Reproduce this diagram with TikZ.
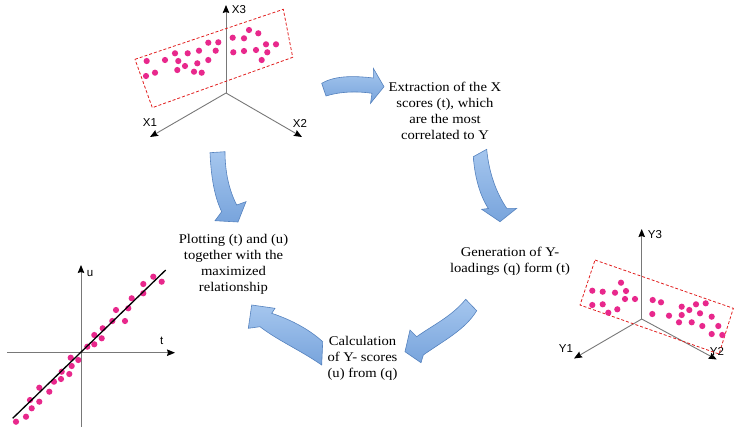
\documentclass[tikz,border=0pt]{standalone}
\usepackage{fontspec}
\setmainfont[FakeStretch=1.1]{Liberation Serif}
\newfontfamily\axfont{Liberation Sans}
\usetikzlibrary{arrows.meta}
\definecolor{dotc}{RGB}{232,40,140}
\definecolor{boxred}{RGB}{225,30,30}
\definecolor{axgray}{RGB}{120,120,120}
\definecolor{arrlight}{RGB}{165,198,238}
\definecolor{arrdark}{RGB}{120,164,220}
\definecolor{arredge}{RGB}{85,130,190}
\begin{document}
\begin{tikzpicture}[x=1pt,y=-1pt,
  dot/.style={fill=dotc,draw=none},
  axisline/.style={draw=axgray,line width=0.9pt,-{Stealth[length=8pt,width=6.5pt,inset=1pt,color=black]}},
  plainaxis/.style={draw=axgray,line width=0.9pt},
  scatterbox/.style={draw=boxred,dash pattern=on 3pt off 2pt,line width=0.8pt},
  blockarrow/.style={top color=arrlight,bottom color=arrdark,draw=arredge,line width=0.6pt},
  steptext/.style={align=center,inner sep=0pt,font=\fontsize{13.3}{16}\selectfont},
  axlabel/.style={inner sep=0pt,font=\axfont\fontsize{11.5}{12}\selectfont}]
\useasboundingbox (0,0) rectangle (735,429);

% ---------- X space ----------
\coordinate (xo) at (226,93);
\coordinate (x3) at (226,5);
\coordinate (x1) at (150,137);
\coordinate (x2) at (302,137);
\draw[axisline] (xo) -- (x3);
\draw[axisline] (xo) -- (x1);
\draw[axisline] (xo) -- (x2);
\node[axlabel] (lx3) at (239,10) {X3};
\node[axlabel] (lx1) at (150,123) {X1};
\node[axlabel] (lx2) at (300,123) {X2};
\draw[scatterbox] (135,59.3) -- (283.3,9.3) -- (292.7,57.3) -- (152.3,107.7) -- cycle;
\foreach \p in {(146.7,61),(146,76),(155,72.7),(165,60),(175,53.3),(178.3,61),(177.3,70),(185,66),(187.7,53.3),(194,71.7),(197.3,63.3),(199,50.7),(201.7,72.7),(208.3,42.7),(208.3,60),(215.7,50.7),(218.3,42.3),(232.7,37.7),(233.3,52.3),(244,38.3),(244,51),(249,30),(258.3,33.3),(256,50),(261.7,60),(266,44.3),(267.3,52.3),(276,44.3)}
  \fill[dot] \p circle (3.1);

% ---------- Y space ----------
\coordinate (yo) at (641.7,319);
\coordinate (y3) at (641.7,229);
\coordinate (y1) at (574,358.5);
\coordinate (y2) at (716.7,359.5);
\draw[axisline] (yo) -- (y3);
\draw[axisline] (yo) -- (y1);
\draw[axisline] (yo) -- (y2);
\node[axlabel] (ly3) at (655,235) {Y3};
\node[axlabel] (ly1) at (566,349) {Y1};
\node[axlabel] (ly2) at (717,351) {Y2};
\draw[scatterbox] (595,260) -- (733.3,308.3) -- (719,354) -- (580,305) -- cycle;
\foreach \p in {(592.3,290.7),(602.7,291.7),(615,292.7),(621,282.7),(626,291),(625,299),(635,299),(592.3,305),(602.7,304.3),(608.3,312.7),(617.3,309.3),(652.7,300),(661,302.3),(652.3,314),(669,315.7),(679,322.3),(681.7,306.7),(681.7,315),(689.3,310),(691.7,322.3),(696,304.3),(700,313.3),(702.3,326),(705.7,303.3),(711.7,316.7),(718.3,326),(711.7,334),(722.3,335)}
  \fill[dot] \p circle (3.1);

% ---------- t-u plot ----------
\coordinate (to) at (81,352.7);
\coordinate (tl) at (7,352.7);
\coordinate (tr) at (175,352.7);
\coordinate (ub) at (81,427);
\coordinate (ut) at (81,265);
\draw[plainaxis] (to) -- (tl);
\draw[axisline] (to) -- (tr);
\draw[plainaxis] (to) -- (ub);
\draw[axisline] (to) -- (ut);
\node[axlabel] (lu) at (90,274) {u};
\node[axlabel] (lt) at (161.7,341) {t};
\foreach \p in {(16,421.7),(26,416.7),(31.7,408.3),(30,400),(39.3,401.7),(39.3,387.7),(49.3,391.7),(54,381.7),(61,379),(61.7,371.7),(69.3,374),(71.7,366),(70.7,357.7),(78.3,360),(87.3,346.7),(94.3,344.3),(94.3,335),(101.7,338.3),(102.7,328.3),(112.3,321),(116,310),(125,321),(128.3,308.3),(131.7,298.3),(143.3,293.3),(143.3,284),(153.3,276.7),(161.7,281.7)}
  \fill[dot] \p circle (3.1);
\coordinate (ra) at (12.7,418.3);
\coordinate (rb) at (165.7,270);
\draw[black,line width=1.3pt] (ra) -- (rb);

% ---------- step texts ----------
\node[steptext] (extract) at (445,111) {Extraction of the X\\scores (t), which\\are the most\\correlated to Y};
\node[steptext] (gen) at (510,261) {Generation of Y-\\loadings (q) form (t)};
\node[steptext] (calc) at (362.5,358.5) {Calculation\\of Y- scores\\(u) from (q)};
\node[steptext] (plot) at (233.5,264) {Plotting (t) and (u)\\together with the\\maximized\\relationship};

% ---------- block arrows ----------
% top: towards extraction
\path[blockarrow] (321.7,83.3) .. controls (336,75) and (356,76) .. (373.3,78) -- (373.3,68.3) -- (384,86.7) -- (370.5,103.3) -- (372,93.3) .. controls (357,91) and (340,91.5) .. (326,96) -- cycle;
% right: extraction to generation
\path[blockarrow] (473.3,156.7) .. controls (475,180) and (481,197) .. (488.3,208.5) -- (481.7,209.3) -- (500,221.7) -- (516.7,208.3) -- (506.7,208.3) .. controls (497,194) and (489,174) .. (486.7,149.3) -- cycle;
% bottom right: generation to calculation
\path[blockarrow] (465.7,299.3) .. controls (451,317) and (433,325) .. (416.7,336.7) -- (410,330) -- (405,351.7) -- (421,362.7) -- (423.3,355) .. controls (443,341) and (465,330) .. (476.7,310.7) -- cycle;
% bottom left: calculation to plotting
\path[blockarrow] (251.7,305) -- (275,308.3) -- (271.7,313.3) .. controls (292,320) and (310,330) .. (322.7,341.7) -- (321.7,365) .. controls (300,350) and (277,340) .. (260,326.7) -- (248.3,328.3) -- cycle;
% left: X space to plotting
\path[blockarrow] (210,152.7) .. controls (211,175) and (214,196) .. (221.7,211.7) -- (215,220.7) -- (238,222) -- (246,201.7) -- (236.7,205) .. controls (229,190) and (225,172) .. (225,151.7) -- cycle;
\end{tikzpicture}
\end{document}
